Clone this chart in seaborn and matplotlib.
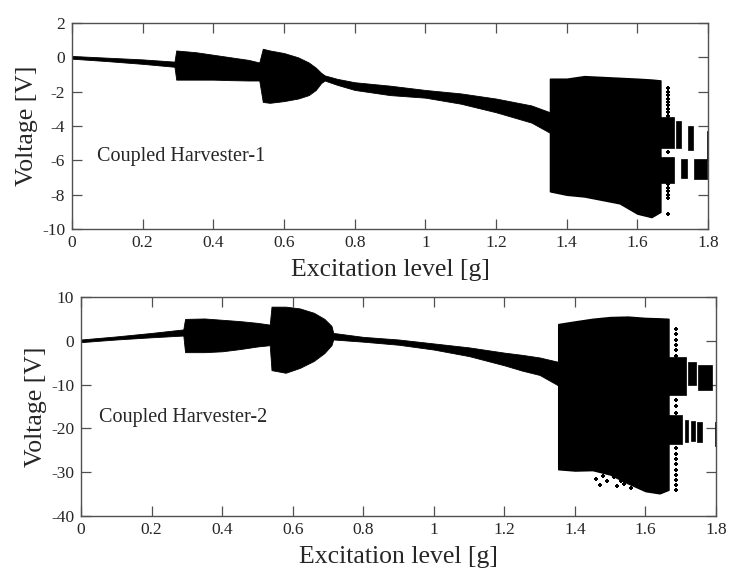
import matplotlib
matplotlib.use("Agg")
import matplotlib.pyplot as plt
import seaborn as sns
import pandas as pd

# ---------------- Harvester-1 voltage envelope (periodic branches) ----------------
h1_x  = [0.00, 0.10, 0.20, 0.29, 0.295, 0.35, 0.40, 0.45, 0.50, 0.53, 0.54, 0.56, 0.60, 0.64,
         0.67, 0.69, 0.705, 0.715, 0.75, 0.80, 0.90, 1.00, 1.10, 1.20, 1.30, 1.353]
h1_lo = [-0.08, -0.22, -0.38, -0.55, -1.30, -1.30, -1.30, -1.33, -1.35, -1.35, -2.60, -2.65,
         -2.55, -2.40, -2.20, -1.90, -1.50, -1.35, -1.60, -1.90, -2.20, -2.35, -2.70, -3.20,
         -3.80, -4.40]
h1_hi = [0.08, -0.02, -0.12, -0.25, 0.40, 0.30, 0.15, 0.00, -0.15, -0.30, 0.50, 0.40, 0.25,
         0.00, -0.30, -0.60, -0.90, -1.05, -1.25, -1.45, -1.65, -1.90, -2.10, -2.40, -2.80,
         -3.20]

# chaotic band
h1_cx  = [1.353, 1.40, 1.45, 1.50, 1.55, 1.60, 1.64, 1.665]
h1_clo = [-7.8, -8.0, -8.1, -8.3, -8.5, -9.1, -9.3, -9.0]
h1_chi = [-1.25, -1.25, -1.10, -1.15, -1.20, -1.25, -1.30, -1.35]

# period-doubled islands beyond the chaotic band
h1_isl_x0 = [1.665, 1.665, 1.710, 1.724, 1.742, 1.760, 1.796]
h1_isl_x1 = [1.705, 1.705, 1.724, 1.740, 1.757, 1.796, 1.800]
h1_isl_lo = [-5.3, -7.3, -5.3, -7.0, -5.4, -7.1, -5.9]
h1_isl_hi = [-3.5, -5.8, -3.7, -5.9, -4.0, -5.9, -4.3]

# isolated transient points at 1.687 g
h1_col_x = 1.687
h1_col_v = [-1.8, -2.0, -2.2, -2.4, -2.6, -2.8, -3.0, -3.2, -3.4, -5.5, -7.4, -7.6, -7.8,
            -8.0, -8.2, -9.1]

# ---------------- Harvester-2 voltage envelope ----------------
h2_x  = [0.00, 0.10, 0.20, 0.29, 0.295, 0.35, 0.40, 0.45, 0.50, 0.535, 0.54, 0.58, 0.62,
         0.66, 0.69, 0.71, 0.715, 0.80, 0.90, 1.00, 1.10, 1.20, 1.25, 1.30, 1.353]
h2_lo = [-0.3, 0.3, 0.8, 1.2, -2.6, -2.6, -2.4, -1.9, -1.3, -1.0, -6.7, -7.3, -6.2, -4.6,
         -2.8, -1.0, 0.3, -0.2, -0.9, -2.0, -3.5, -5.6, -6.8, -7.8, -10.2]
h2_hi = [0.3, 1.0, 1.8, 2.6, 5.0, 5.1, 4.8, 4.5, 4.1, 3.7, 7.8, 7.8, 7.4, 6.4, 5.0, 3.4,
         1.8, 0.9, 0.3, -0.6, -1.5, -2.7, -3.2, -3.8, -4.8]

h2_cx  = [1.353, 1.40, 1.45, 1.50, 1.55, 1.60, 1.64, 1.665]
h2_clo = [-29.3, -29.6, -29.5, -30.5, -32.5, -34.3, -34.8, -34.0]
h2_chi = [3.8, 4.4, 5.0, 5.4, 5.5, 5.2, 5.1, 5.0]

h2_isl_x0 = [1.665, 1.722, 1.748, 1.665, 1.712, 1.728, 1.746, 1.796]
h2_isl_x1 = [1.715, 1.742, 1.790, 1.705, 1.722, 1.740, 1.760, 1.800]
h2_isl_lo = [-12.4, -10.1, -11.2, -23.5, -23.0, -22.9, -23.0, -24.0]
h2_isl_hi = [-3.8, -4.8, -5.5, -17.0, -18.0, -18.4, -18.5, -18.5]

h2_col_x = 1.687
h2_col_v = [2.8, 1.5, 0.2, -1.0, -2.2, -3.4, -13.5, -15.0, -16.5, -24.5, -25.8, -27.0,
            -28.2, -29.4, -30.6, -31.8, -33.0, -34.0]

# scattered points below the Harvester-2 chaotic band
h2_sc_x = [1.46, 1.48, 1.49, 1.51, 1.52, 1.53, 1.55, 1.56, 1.47, 1.54]
h2_sc_v = [-31.5, -30.8, -32.0, -31.2, -33.2, -32.0, -31.4, -33.5, -33.0, -32.8]

x_ticks = [0, 0.2, 0.4, 0.6, 0.8, 1.0, 1.2, 1.4, 1.6, 1.8]
x_tick_labels = ["0", "0.2", "0.4", "0.6", "0.8", "1", "1.2", "1.4", "1.6", "1.8"]
h1_y_ticks = [2, 0, -2, -4, -6, -8, -10]
h2_y_ticks = [10, 0, -10, -20, -30, -40]

sns.set_style("ticks")
plt.rcParams["font.family"] = ["Liberation Serif", "DejaVu Serif"]
plt.rcParams["axes.edgecolor"] = "#505050"
plt.rcParams["axes.linewidth"] = 1.0

fig = plt.figure(figsize=(7.29, 5.72), dpi=100)
W, H = 729, 572
ax1 = fig.add_axes([72 / W, 1 - 229 / H, 636 / W, 206 / H])
ax2 = fig.add_axes([81 / W, 1 - 516 / H, 635 / W, 219 / H])


def draw_panel(ax, x, lo, hi, cx, clo, chi, ix0, ix1, ilo, ihi, colx, colv):
    ink = "black"
    ax.fill_between(x, lo, hi, color=ink, lw=0.6, edgecolor=ink)
    ax.fill_between(cx, clo, chi, color=ink, lw=1.2, edgecolor=ink)
    for a, b, l, h in zip(ix0, ix1, ilo, ihi):
        ax.fill_between([a, b], [l, l], [h, h], color=ink, lw=0.5, edgecolor=ink)
    df = pd.DataFrame({"x": [colx] * len(colv), "v": colv})
    sns.scatterplot(data=df, x="x", y="v", ax=ax, color=ink, marker="P", s=7,
                    linewidth=0, legend=False)


draw_panel(ax1, h1_x, h1_lo, h1_hi, h1_cx, h1_clo, h1_chi,
           h1_isl_x0, h1_isl_x1, h1_isl_lo, h1_isl_hi, h1_col_x, h1_col_v)
draw_panel(ax2, h2_x, h2_lo, h2_hi, h2_cx, h2_clo, h2_chi,
           h2_isl_x0, h2_isl_x1, h2_isl_lo, h2_isl_hi, h2_col_x, h2_col_v)
sc = pd.DataFrame({"x": h2_sc_x, "v": h2_sc_v})
sns.scatterplot(data=sc, x="x", y="v", ax=ax2, color="black", marker="P", s=7,
                linewidth=0, legend=False)

for ax, yt, ylim in [(ax1, h1_y_ticks, (-10, 2)), (ax2, h2_y_ticks, (-40, 10))]:
    ax.set_xlim(0, 1.8)
    ax.set_ylim(*ylim)
    ax.set_xticks(x_ticks)
    ax.set_xticklabels(x_tick_labels)
    ax.set_yticks(yt)
    ax.set_yticklabels([str(v) for v in yt])
    ax.tick_params(direction="in", top=True, right=True, length=7, width=0.9,
                   color="#505050", labelsize=12.5)
    ax.tick_params(axis="x", pad=4)
    ax.tick_params(axis="y", pad=5)
    ax.set_xlabel("Excitation level [g]", fontsize=18.5, labelpad=6)
    ax.set_ylabel("Voltage [V]", fontsize=18.5, labelpad=3)
    for s in ax.spines.values():
        s.set_visible(True)

ax1.text(0.07, -5.8, "Coupled Harvester-1", fontsize=14.5, va="center", ha="left")
ax2.text(0.05, -17.6, "Coupled Harvester-2", fontsize=14.5, va="center", ha="left")

fig.savefig("out.png", dpi=100)
